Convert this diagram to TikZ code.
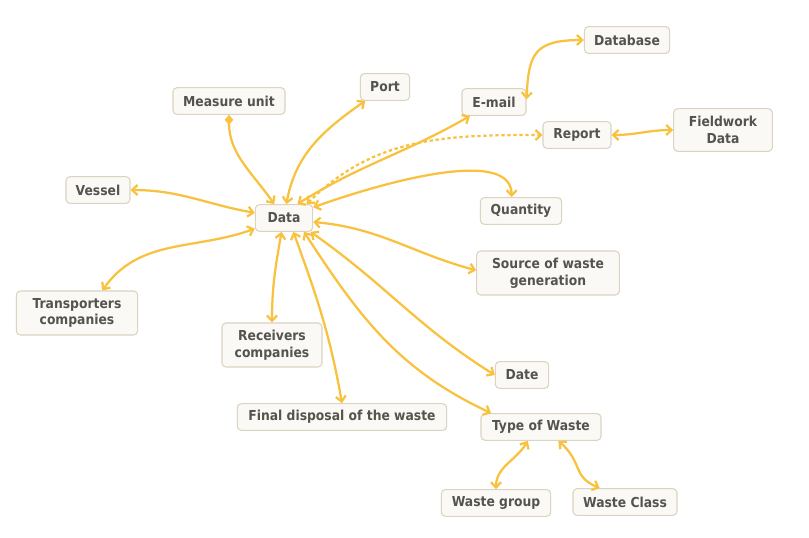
\documentclass[tikz,border=0pt]{standalone}
\usepackage{fontspec}
\setmainfont{DejaVu Sans Condensed}
\usepackage{tikz}
\usetikzlibrary{arrows.meta}
\definecolor{wire}{HTML}{F8C23F}
\definecolor{boxfill}{HTML}{FAF9F5}
\definecolor{boxline}{HTML}{DCD3C0}
\definecolor{ink}{HTML}{55534D}
\tikzset{
    topic/.style={draw=boxline, fill=boxfill, line width=0.8pt, rounded corners=3pt,
                  text=ink, font=\fontsize{10.3}{12.5}\selectfont\bfseries, align=center,
                  minimum height=20pt, inner sep=2pt},
    link/.style={draw=wire, line width=1.7pt, <->},
    >={Straight Barb[length=4pt,width=7.5pt]}
}

\begin{document}
\begin{tikzpicture}[x=0.75pt,y=-0.75pt]
            \useasboundingbox (0,0) rectangle (809,537);

            % topics
            \node[topic, minimum width=64pt] (db) at (627,40) {Database};
            \node[topic, minimum width=37pt] (port) at (385,87) {Port};
            \node[topic, minimum width=84pt] (mu) at (229,101) {Measure unit};
            \node[topic, minimum width=48pt] (email) at (494,102) {E-mail};
            \node[topic, minimum width=51pt] (report) at (577,135) {Report};
            \node[topic, minimum width=74pt, minimum height=32pt] (field) at (723,130) {Fieldwork\\Data};
            \node[topic, minimum width=48pt] (vessel) at (98,190) {Vessel};
            \node[topic, minimum width=43pt] (data) at (284,218) {Data};
            \node[topic, minimum width=61pt] (qty) at (521,211) {Quantity};
            \node[topic, minimum width=107pt, minimum height=33pt] (source) at (548,273) {Source of waste\\generation};
            \node[topic, minimum width=91pt, minimum height=33pt] (trans) at (77,313) {Transporters\\companies};
            \node[topic, minimum width=75pt, minimum height=33pt] (recv) at (272,345) {Receivers\\companies};
            \node[topic, minimum width=40pt] (date) at (522,375) {Date};
            \node[topic, minimum width=157pt] (final) at (342,417) {Final disposal of the waste};
            \node[topic, minimum width=90pt] (type) at (541,427) {Type of Waste};
            \node[topic, minimum width=82pt] (group) at (496,503) {Waste group};
            \node[topic, minimum width=78pt] (class) at (625,502) {Waste Class};

            % links
            \draw[link, {Diamond[length=7.5pt,width=6.5pt]}->] (mu) to[out=-90,in=125] (data);
            \draw[link] (data) to[out=80,in=-145] (port);
            \draw[link] ([xshift=10pt]data.north) to[out=32,in=-150] (email);
            \draw[link, dash pattern=on 2.5pt off 2pt] ([xshift=17pt]data.north) to[out=45,in=180] (report);
            \draw[link] (data) to[out=20,in=90,looseness=0.7] ([xshift=-7pt]qty.north);
            \draw[link] (db.west) .. controls +(-50,0) and +(2,-45) .. ([yshift=2pt]email.east);
            \draw[link] (report) to[out=0,in=180] (field);
            \draw[link] (data) to[out=170,in=0] (vessel);
            \draw[link] (data) to[out=200,in=55] ([xshift=19pt]trans.north);
            \draw[link] (data) to[out=-100,in=90] (recv);
            \draw[link] ([xshift=7pt]data.south) to[out=-70,in=100] (final.north);
            \draw[link] ([xshift=15pt]data.south) to[out=-57,in=155] ([xshift=8pt]type.north west);
            \draw[link] ([xshift=-2pt]data.south east) to[out=-35,in=148] (date.west);
            \draw[link] ([yshift=-3pt]data.east) to[out=-5,in=165] ([yshift=2pt]source.west);
            \draw[link] ([xshift=-10pt]type.south) to[out=-120,in=90] (group);
            \draw[link] ([xshift=13pt]type.south) .. controls +(25,22) and +(-28,-12) .. ([xshift=-19pt]class.north);

\end{tikzpicture}
\end{document}
